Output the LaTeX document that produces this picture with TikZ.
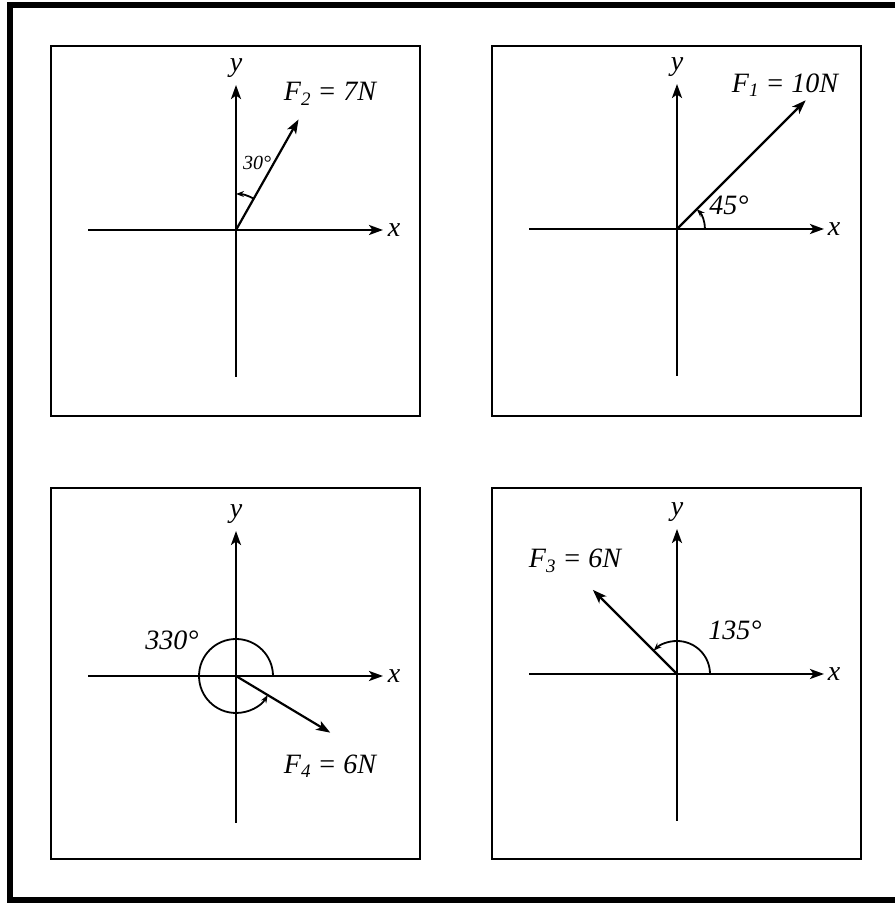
\documentclass[tikz,border=0pt]{standalone}
\usepackage{fontspec}
\setmainfont{Liberation Serif}
\usetikzlibrary{arrows.meta}
\newcommand{\lowsub}[1]{\raisebox{-0.35ex}{\fontsize{19}{20}\selectfont #1}}
\begin{document}
\begin{tikzpicture}[x=1pt,y=1pt,
  axisline/.style={line width=2.4pt,-{Stealth[length=14pt,width=10pt,inset=3.5pt]}},
  force/.style={line width=2.2pt,-{Stealth[length=14pt,width=10pt,inset=3.5pt]}},
  anglearc/.style={line width=1.8pt,-{Stealth[length=8pt,width=6pt]}},
  panel/.style={draw,line width=2.8pt},
  axlbl/.style={font=\fontsize{28}{30}\selectfont\itshape,inner sep=0pt},
  flbl/.style={font=\fontsize{28}{30}\selectfont\itshape,inner sep=0pt},
  anglbl/.style={font=\fontsize{28}{30}\selectfont\itshape,inner sep=0pt},
  smalllbl/.style={font=\fontsize{20}{22}\selectfont\itshape,inner sep=0pt}]
\useasboundingbox (0,0) rectangle (895,904);
\fill[white] (0,0) rectangle (895,904);
% outer frame
\draw[line width=6pt] (895,898.5) -- (10,898.5) -- (10,4) -- (895,4);
% panels
\draw[panel] (51,858) rectangle (420,488);
\draw[panel] (492,858) rectangle (861,488);
\draw[panel] (51,416) rectangle (420,45);
\draw[panel] (492,416) rectangle (861,45);

% ---------- top left: F2 ----------
\begin{scope}[shift={(236,674)}]
  \coordinate (A-o) at (0,0);
  \coordinate (A-xl) at (-148,0); \coordinate (A-xr) at (147,0);
  \coordinate (A-yb) at (0,-147); \coordinate (A-yt) at (0,145);
  \draw[axisline] (A-xl) -- (A-xr);
  \draw[axisline] (A-yb) -- (A-yt);
  \node[axlbl] (A-x) at (158,0) {x};
  \node[axlbl] (A-y) at (0,162) {y};
  \coordinate (A-f) at (60.5:127);
  \draw[force] (A-o) -- (A-f);
  \draw[anglearc] (60.5:36) arc[start angle=60.5,end angle=90,radius=36];
  \node[smalllbl] (A-ang) at (21,67) {30°};
  \node[flbl] (A-F) at (94,136) {F\lowsub{2} = 7N};
\end{scope}

% ---------- top right: F1 ----------
\begin{scope}[shift={(677,675)}]
  \coordinate (B-o) at (0,0);
  \coordinate (B-xl) at (-148,0); \coordinate (B-xr) at (147,0);
  \coordinate (B-yb) at (0,-147); \coordinate (B-yt) at (0,145);
  \draw[axisline] (B-xl) -- (B-xr);
  \draw[axisline] (B-yb) -- (B-yt);
  \node[axlbl] (B-x) at (157,0) {x};
  \node[axlbl] (B-y) at (0,162) {y};
  \coordinate (B-f) at (45:182);
  \draw[force] (B-o) -- (B-f);
  \draw[anglearc] (0:28) arc[start angle=0,end angle=45,radius=28];
  \node[anglbl] (B-ang) at (52,24) {45°};
  \node[flbl] (B-F) at (108,144) {F\lowsub{1} = 10N};
\end{scope}

% ---------- bottom left: F4 ----------
\begin{scope}[shift={(236,228)}]
  \coordinate (C-o) at (0,0);
  \coordinate (C-xl) at (-148,0); \coordinate (C-xr) at (147,0);
  \coordinate (C-yb) at (0,-147); \coordinate (C-yt) at (0,145);
  \draw[axisline] (C-xl) -- (C-xr);
  \draw[axisline] (C-yb) -- (C-yt);
  \node[axlbl] (C-x) at (158,0) {x};
  \node[axlbl] (C-y) at (0,162) {y};
  \coordinate (C-f) at (-31:110);
  \draw[force] (C-o) -- (C-f);
  \draw[anglearc] (0:37) arc[start angle=0,end angle=329,radius=37];
  \node[anglbl] (C-ang) at (-64,36) {330°};
  \node[flbl] (C-F) at (94,-90) {F\lowsub{4} = 6N};
\end{scope}

% ---------- bottom right: F3 ----------
\begin{scope}[shift={(677,230)}]
  \coordinate (D-o) at (0,0);
  \coordinate (D-xl) at (-148,0); \coordinate (D-xr) at (147,0);
  \coordinate (D-yb) at (0,-147); \coordinate (D-yt) at (0,145);
  \draw[axisline] (D-xl) -- (D-xr);
  \draw[axisline] (D-yb) -- (D-yt);
  \node[axlbl] (D-x) at (157,0) {x};
  \node[axlbl] (D-y) at (0,162) {y};
  \coordinate (D-f) at (135:119);
  \draw[force] (D-o) -- (D-f);
  \draw[anglearc] (0:33) arc[start angle=0,end angle=135,radius=33];
  \node[anglbl] (D-ang) at (58,44) {135°};
  \node[flbl] (D-F) at (-102,113) {F\lowsub{3} = 6N};
\end{scope}
\end{tikzpicture}
\end{document}
